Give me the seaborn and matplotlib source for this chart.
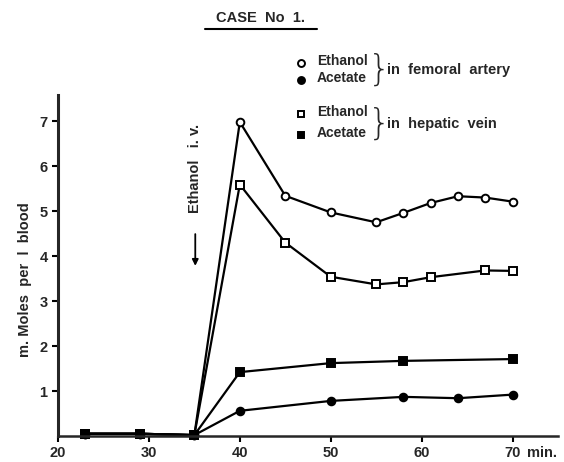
import numpy as np
import pandas as pd
import seaborn as sns
from matplotlib import pyplot as plt

# femoral artery
fem_time_eth = [23, 29, 35, 40, 45, 50, 55, 58, 61, 64, 67, 70]
fem_ethanol = [0.05, 0.05, 0.02, 6.98, 5.34, 4.97, 4.75, 4.96, 5.18, 5.33, 5.30, 5.21]
fem_time_ac = [23, 29, 35, 40, 50, 58, 64, 70]
fem_acetate = [0.05, 0.05, 0.02, 0.56, 0.78, 0.87, 0.84, 0.92]

# hepatic vein
hep_time_eth = [23, 29, 35, 40, 45, 50, 55, 58, 61, 67, 70]
hep_ethanol = [0.05, 0.05, 0.02, 5.59, 4.30, 3.54, 3.37, 3.42, 3.53, 3.68, 3.67]
hep_time_ac = [23, 29, 35, 40, 50, 58, 70]
hep_acetate = [0.05, 0.05, 0.02, 1.42, 1.62, 1.67, 1.71]

x_ticks = [20, 30, 40, 50, 60, 70]
y_ticks = [1, 2, 3, 4, 5, 6, 7]

sns.set_style('ticks')
plt.rcParams['font.family'] = ['Liberation Sans', 'DejaVu Sans']
plt.rcParams['font.weight'] = 'bold'

W, H = 564, 462
fig = plt.figure(figsize=(W / 100, H / 100), dpi=100)
ax = fig.add_axes([58 / W, 1 - 436 / H, (558 - 58) / W, (436 - 95) / H])

series = [
    (fem_time_eth, fem_ethanol, 'o', 'white'),
    (hep_time_eth, hep_ethanol, 's', 'white'),
    (hep_time_ac, hep_acetate, 's', 'black'),
    (fem_time_ac, fem_acetate, 'o', 'black'),
]
for t, v, m, fc in series:
    df = pd.DataFrame({'time': t, 'value': v})
    sns.lineplot(data=df, x='time', y='value', ax=ax, color='black', lw=1.6,
                 marker=m, markersize=5.5, markerfacecolor=fc,
                 markeredgecolor='black', markeredgewidth=1.4, clip_on=False)

ax.set_xlim(20, 75)
ax.set_ylim(0, 7.58)
ax.set_xticks(x_ticks)
ax.set_yticks(y_ticks)
ax.tick_params(axis='both', direction='out', length=4, width=1.5,
               labelsize=10.5, color='black')
for lab in ax.get_xticklabels() + ax.get_yticklabels():
    lab.set_fontweight('bold')
ax.set_xlabel('')
ax.set_ylabel('')
sns.despine(ax=ax)
ax.spines['left'].set_linewidth(2.2)
ax.spines['bottom'].set_linewidth(1.8)

def fx(px):
    return px / W

def fy(py):
    return 1 - py / H

fig.text(fx(527), fy(453), 'min.', fontsize=10.5, fontweight='bold',
         va='center', ha='left')

# y label
fig.text(fx(25), fy(280), 'm. Moles  per  l  blood', rotation=90, fontsize=10.5,
         fontweight='bold', ha='center', va='center')

# title
fig.text(fx(261), fy(18), 'CASE  No  1.', fontsize=10.5, fontweight='bold',
         ha='center', va='center')
fig.add_artist(plt.Line2D([fx(205), fx(317)], [fy(29), fy(29)],
                          color='black', lw=1.5))

# ethanol injection mark
ax.text(35.1, 5.95, 'Ethanol   i. v.', rotation=90, fontsize=10.5,
        fontweight='bold', ha='center', va='center')
ax.annotate('', xy=(35.1, 3.72), xytext=(35.1, 4.55),
            arrowprops=dict(arrowstyle='-|>', color='black', lw=1.3,
                            mutation_scale=9))

# legend
legend_rows = [
    (63, 'o', 'white', 'Ethanol'),
    (80, 'o', 'black', 'Acetate'),
    (114, 's', 'white', 'Ethanol'),
    (135, 's', 'black', 'Acetate'),
]
for py, m, fc, name in legend_rows:
    fig.add_artist(plt.Line2D([fx(301)], [fy(py)], marker=m, markersize=5,
                              markerfacecolor=fc, markeredgecolor='black',
                              markeredgewidth=1.4, lw=0))
    fig.text(fx(317), fy(py - 2), name, fontsize=10, fontweight='bold',
             ha='left', va='center')

for py, label in [(70, 'in  femoral  artery'), (124, 'in  hepatic  vein')]:
    fig.text(fx(379), fy(py), '}', fontsize=26, fontweight='light',
             ha='center', va='center', family='DejaVu Sans')
    fig.text(fx(387), fy(py), label, fontsize=10.5, fontweight='bold',
             ha='left', va='center')

fig.savefig('out.png', dpi=100)
